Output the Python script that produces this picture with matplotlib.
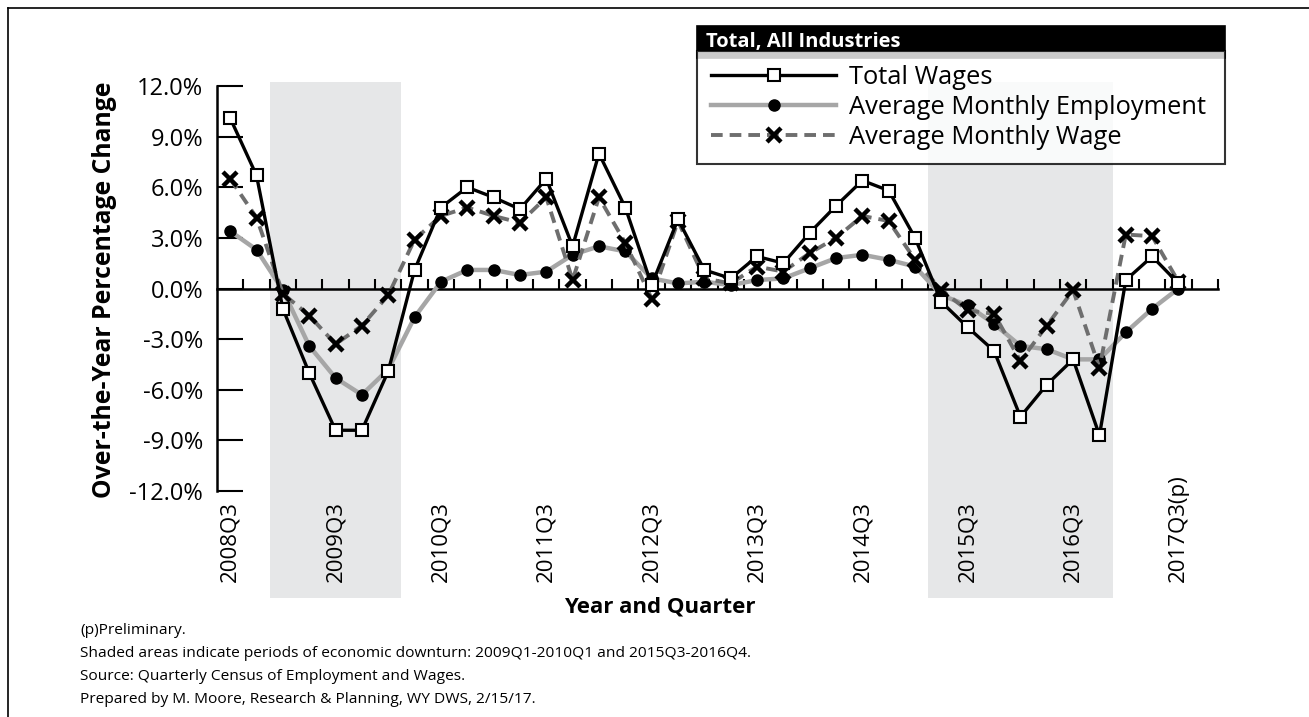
import numpy as np
import matplotlib
matplotlib.use("Agg")
import matplotlib.pyplot as plt
from matplotlib.patches import Rectangle
from matplotlib.lines import Line2D
import matplotlib.transforms as mtransforms

plt.rcParams['font.family'] = ['Open Sans', 'DejaVu Sans']

# Quarters 2008Q3 .. 2017Q3
quarters = [f"{y}Q{q}" for y in range(2008, 2018) for q in range(1, 5)][2:-1]
tick_quarters = ["2008Q3", "2009Q3", "2010Q3", "2011Q3", "2012Q3",
                 "2013Q3", "2014Q3", "2015Q3", "2016Q3", "2017Q3"]
tick_labels = ["2008Q3", "2009Q3", "2010Q3", "2011Q3", "2012Q3",
               "2013Q3", "2014Q3", "2015Q3", "2016Q3", "2017Q3(p)"]
downturns = [("2009Q1", "2010Q1"), ("2015Q2", "2016Q4")]

total_wages = [10.1, 6.7, -1.2, -5.0, -8.4, -8.4, -4.9, 1.1, 4.8, 6.0,
               5.4, 4.7, 6.5, 2.5, 8.0, 4.8, 0.2, 4.1, 1.1, 0.6,
               1.9, 1.5, 3.3, 4.9, 6.4, 5.8, 3.0, -0.8, -2.3, -3.7,
               -7.6, -5.7, -4.2, -8.7, 0.5, 1.9, 0.3]
avg_employment = [3.4, 2.3, -0.1, -3.4, -5.3, -6.3, -4.8, -1.7, 0.4, 1.1,
                  1.1, 0.8, 1.0, 2.0, 2.5, 2.2, 0.6, 0.3, 0.4, 0.2,
                  0.5, 0.6, 1.2, 1.8, 2.0, 1.7, 1.3, -0.4, -1.0, -2.1,
                  -3.4, -3.6, -4.2, -4.2, -2.6, -1.2, 0.0]
avg_wage = [6.5, 4.2, -0.3, -1.6, -3.3, -2.2, -0.4, 2.9, 4.3, 4.8,
            4.3, 3.9, 5.4, 0.5, 5.4, 2.7, -0.6, 4.0, 0.6, 0.3,
            1.3, 1.0, 2.1, 3.0, 4.3, 4.0, 1.7, -0.1, -1.3, -1.5,
            -4.3, -2.2, -0.1, -4.7, 3.2, 3.1, 0.4]

W, H = 1309, 717
fig = plt.figure(figsize=(W / 100, H / 100), dpi=100)


def fx(px):
    return px / W


def fy(py):
    return 1 - py / H


ax = fig.add_axes([fx(217), fy(491), fx(1218) - fx(217), fy(86) - fy(491)])
x = np.arange(len(quarters))

# shaded downturns, reaching below the axis into the label area
trans = mtransforms.blended_transform_factory(ax.transData, ax.transAxes)
for a, b in downturns:
    i0, i1 = quarters.index(a), quarters.index(b)
    ax.add_patch(Rectangle((i0 - 0.5, -0.264), i1 - i0 + 1, 1.274, transform=trans,
                           facecolor='#e6e7e8', edgecolor='none', clip_on=False, zorder=0))

ax.plot(x, avg_employment, color='#a6a6a6', lw=3.2, marker='o', ms=8,
        mfc='black', mec='black', zorder=3, label='Average Monthly Employment')
ax.plot(x, avg_wage, color='#6e6e6e', lw=2.8, dashes=(3, 1.8), marker='x', ms=10,
        mew=3.2, mec='black', zorder=4, label='Average Monthly Wage')
ax.plot(x, total_wages, color='black', lw=2.4, marker='s', ms=8.5,
        mfc='white', mec='black', mew=1.5, zorder=5, label='Total Wages')

ax.set_xlim(-0.5, 37.5)
ax.set_ylim(-12, 12)
ax.set_yticks(np.arange(-12, 12.1, 3))
ax.set_yticklabels([f"{v:.1f}%" for v in np.arange(-12, 12.1, 3)], fontsize=17)
ax.tick_params(axis='y', direction='in', length=19, width=1.5, pad=10)

ax.spines['top'].set_visible(False)
ax.spines['right'].set_visible(False)
ax.spines['left'].set_linewidth(1.8)
ax.spines['bottom'].set_position(('data', 0))
ax.spines['bottom'].set_linewidth(1.8)
ax.set_xticks([])
ax.set_xticks(np.arange(0.5, 38, 1), minor=True)
ax.tick_params(axis='x', which='minor', direction='in', length=7, width=1.5,
               labelbottom=False)

for q, lab in zip(tick_quarters, tick_labels):
    ax.text(quarters.index(q), -0.225, lab, transform=trans, rotation=90,
            ha='center', va='bottom', fontsize=16)

fig.text(fx(105), fy(290), "Over-the-Year Percentage Change", rotation=90,
         ha='center', va='center', fontsize=17.8, fontweight='bold')
fig.text(fx(660), fy(607), "Year and Quarter", ha='center', va='center',
         fontsize=16, fontweight='bold')

notes = ["(p)Preliminary.",
         "Shaded areas indicate periods of economic downturn: 2009Q1-2010Q1 and 2015Q3-2016Q4.",
         "Source: Quarterly Census of Employment and Wages.",
         "Prepared by M. Moore, Research & Planning, WY DWS, 2/15/17."]
for k, line in enumerate(notes):
    fig.text(fx(80), fy(630 + 23.3 * k), line, ha='left', va='center', fontsize=11.15)

# legend with black header
fig.patches.append(Rectangle((fx(697), fy(58)), fx(1225) - fx(697), fy(26) - fy(58),
                             transform=fig.transFigure, facecolor='black',
                             edgecolor='black', lw=1.2))
fig.text(fx(706), fy(42), "Total, All Industries", color='white', fontsize=14.5,
         fontweight='bold', ha='left', va='center')
h, l = ax.get_legend_handles_labels()
order = [2, 0, 1]
leg = fig.legend([h[i] for i in order], [l[i] for i in order],
                 loc='upper left', bbox_to_anchor=(fx(697), fy(58), fx(1225) - fx(697), 0.01),
                 bbox_transform=fig.transFigure, mode='expand', frameon=True,
                 fancybox=False, edgecolor='black', fontsize=18.4, handlelength=4.9,
                 handletextpad=0.5, labelspacing=0.2, borderaxespad=0, borderpad=0.55)
leg.get_frame().set_linewidth(1.5)

# figure border (top and left)
fig.add_artist(Line2D([fx(8), 1], [fy(8), fy(8)], color='black', lw=1.2))
fig.add_artist(Line2D([fx(8), fx(8)], [fy(8), 0], color='black', lw=1.2))

fig.savefig("out.png", dpi=100)
